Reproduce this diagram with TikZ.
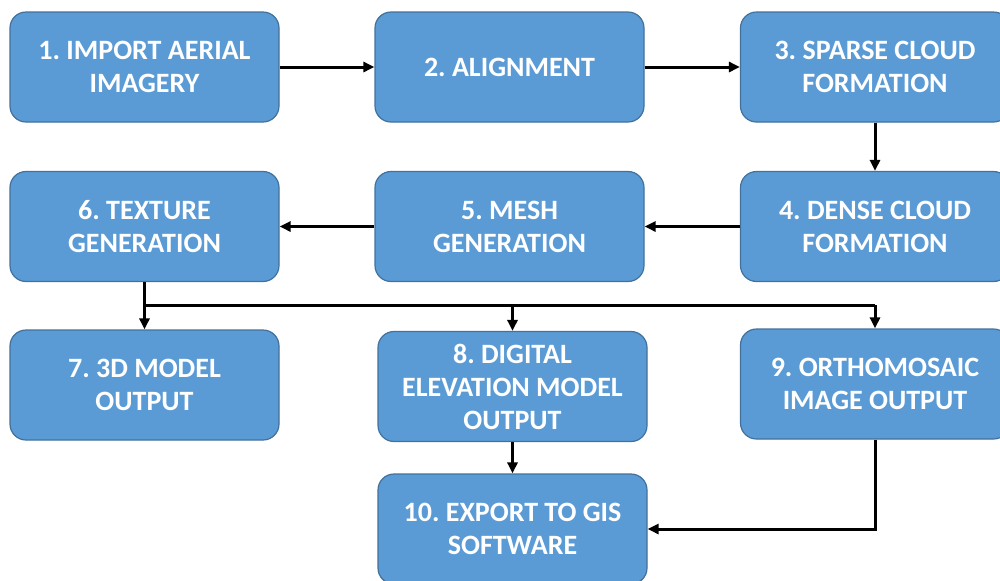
\documentclass[tikz,border=0pt]{standalone}
\usepackage{fontspec}
\setmainfont{Carlito}
\usetikzlibrary{arrows.meta}
\definecolor{boxblue}{RGB}{91,155,213}
\definecolor{boxedge}{RGB}{65,113,156}
\frenchspacing
\begin{document}
\begin{tikzpicture}[x=0.5pt,y=-0.5pt,
 stepbox/.style={draw=boxedge, line width=0.6pt, fill=boxblue, rounded corners=8pt,
   minimum width=134.5pt, minimum height=55pt, inner sep=0pt, align=center,
   text=white, font=\bfseries\fontsize{14}{16.5}\selectfont},
 flow/.style={line width=1.5pt, -{Triangle[length=5.5pt,width=5pt]}},
 trunk/.style={line width=1.5pt, line join=miter}]
\useasboundingbox (0,0) rectangle (1000,580);
\clip (0,0) rectangle (1000,580);
\node[stepbox] (b1) at (144.5,67) {1. IMPORT AERIAL\\IMAGERY};
\node[stepbox] (b2) at (509.5,67) {2. ALIGNMENT};
\node[stepbox] (b3) at (875,67) {3. SPARSE CLOUD\\FORMATION};
\node[stepbox] (b4) at (875,226.5) {4. DENSE CLOUD\\FORMATION};
\node[stepbox] (b5) at (509.5,226.5) {5. MESH\\GENERATION};
\node[stepbox] (b6) at (144.5,226.5) {6. TEXTURE\\GENERATION};
\node[stepbox] (b7) at (144.5,385) {7. 3D MODEL\\OUTPUT};
\node[stepbox] (b8) at (512.5,386.5) {8. DIGITAL\\ELEVATION MODEL\\OUTPUT};
\node[stepbox] (b9) at (875,384) {9. ORTHOMOSAIC\\IMAGE OUTPUT};
\node[stepbox] (b10) at (512.5,529) {10. EXPORT TO GIS\\SOFTWARE};
\draw[flow] (b1.east) -- (b2.west);
\draw[flow] (b2.east) -- (b3.west);
\draw[flow] (b3.south) -- (b4.north);
\draw[flow] (b4.west) -- (b5.east);
\draw[flow] (b5.west) -- (b6.east);
\coordinate (j6) at (144.5,305);
\draw[trunk] (b6.south) -- (j6) -- (b9.north |- j6);
\draw[flow] (j6) -- (b7.north);
\draw[flow] (b8.north |- j6) -- (b8.north);
\draw[flow] (b9.north |- j6) -- (b9.north);
\draw[flow] (b8.south) -- (b10.north);
\draw[flow] (b9.south) |- (b10.east);
\end{tikzpicture}
\end{document}
